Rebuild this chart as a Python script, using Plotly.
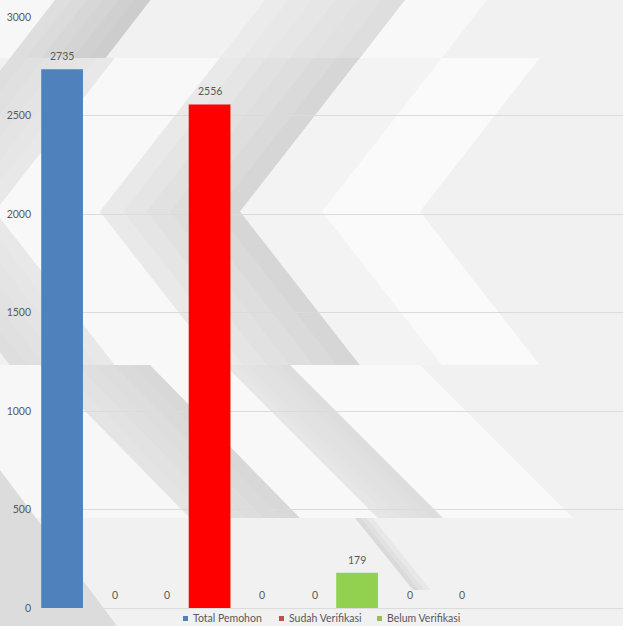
import plotly.graph_objects as go

# ---- data -------------------------------------------------------------
categories = ["Total Pemohon", "Sudah Verifikasi", "Belum Verifikasi"]
series_names = ["Total Pemohon", "Sudah Verifikasi", "Belum Verifikasi"]
series_values = [
    [2735, 2556, 179],
    [0, 0, 0],
    [0, 0, 0],
]
point_colors = ["#4f81bd", "#ff0000", "#92d050"]   # per-point colours of the first series
series_colors = ["#4f81bd", "#c0504d", "#9bbb59"]  # series colours (legend keys)
y_ticks = [0, 500, 1000, 1500, 2000, 2500, 3000]

# ---- geometry ---------------------------------------------------------
FIG_W, FIG_H = 623, 626
M_L, M_R, M_T, M_B = 41, 0, 17, 18
PLOT_W = FIG_W - M_L - M_R
PLOT_H = FIG_H - M_T - M_B
BAR_W = 0.283      # bar width in category units
STEP = 0.357       # distance between series slots inside a category
FONT = "Lato, 'Open Sans', sans-serif"
TXT = "#595959"


def px(xp):
    return (xp - M_L) / PLOT_W


def py(yp):
    return (FIG_H - M_B - yp) / PLOT_H


def poly(points, color):
    d = "M " + " L ".join(f"{px(a):.4f},{py(b):.4f}" for a, b in points) + " Z"
    return dict(type="path", xref="paper", yref="paper", path=d,
                fillcolor=color, line=dict(width=0), layer="below")


def blend(c1, c2, t):
    a = [int(c1[i:i + 2], 16) for i in (1, 3, 5)]
    b = [int(c2[i:i + 2], 16) for i in (1, 3, 5)]
    return "#" + "".join(f"{round(u + (v - u) * t):02x}" for u, v in zip(a, b))


def frac(s, steps):
    return s / (steps - 1) if steps > 1 else 0.0


# ---- decorative chevron background -----------------------------------
shapes = []
VY, Y0, Y1 = 211.5, 58, 365
DX = 0.78 * (VY - Y0)


def chevron(xo, xi, color):
    return poly([(xo, VY), (xo + DX, Y0), (xi + DX, Y0), (xi, VY),
                 (xi + DX, Y1), (xo + DX, Y1)], color)


def shaded_chevron(xo, xi, c_out, c_in, steps=6):
    w = (xi - xo) / steps
    for s in range(steps):
        shapes.append(chevron(xo + s * w, xo + (s + 1) * w + 0.6,
                              blend(c_out, c_in, frac(s, steps))))


def shaded_band(top, bottom, c_left, c_right, steps=6):
    """Parallelogram band split into strips running from left to right shade."""
    (ya, xa0, xa1), (yb, xb0, xb1) = top, bottom
    for s in range(steps):
        t0, t1 = s / steps, (s + 1) / steps
        pts = [(xa0 + (xa1 - xa0) * t0, ya), (xa0 + (xa1 - xa0) * t1 + 0.6, ya),
               (xb0 + (xb1 - xb0) * t1 + 0.6, yb), (xb0 + (xb1 - xb0) * t0, yb)]
        shapes.append(poly(pts, blend(c_left, c_right, frac(s, steps))))


# middle strip
shaded_chevron(-110, -5, "#dedede", "#e8e8e8")
shapes.append(chevron(-5, 100, "#f8f8f8"))
shaded_chevron(100, 240, "#e9e9e9", "#d6d6d6")
shapes.append(chevron(240, 322, "#f3f3f3"))
shapes.append(chevron(322, 420, "#fafafa"))

# upper strip: rising bands
shapes.append(poly([(-5, 58), (10, 58), (55, 0), (-5, 0)], "#f7f7f7"))
shaded_band((58, 10, 105), (0, 55, 150), "#dedede", "#cdcdcd")
shaded_band((58, 220, 360), (0, 265, 405), "#ebebeb", "#dedede")
shapes.append(poly([(360, 58), (442, 58), (487, 0), (405, 0)], "#f8f8f8"))

# lower strip: falling bands
shapes.append(poly([(-5, 365), (40, 365), (190, 518), (-5, 518)], "#f7f7f7"))
shaded_band((365, 40, 150), (518, 190, 300), "#e4e4e4", "#d8d8d8")
shapes.append(poly([(150, 365), (225, 365), (378, 518), (300, 518)], "#f8f8f8"))
shaded_band((365, 225, 290), (518, 378, 443), "#e6e6e6", "#dddddd")
shapes.append(poly([(290, 365), (420, 365), (573, 518), (443, 518)], "#f9f9f9"))
shapes.append(poly([(-5, 470), (0, 470), (120, 630), (-5, 630)], "#dcdcdc"))
shaded_band((518, 355, 372), (590, 413, 430), "#dadada", "#e8e8e8", steps=3)

# ---- bars -------------------------------------------------------------
x_pos = list(range(len(categories)))
fig = go.Figure()
annotations = []
for j, (name, vals) in enumerate(zip(series_names, series_values)):
    slot = (j - 1) * STEP
    fig.add_trace(go.Bar(
        x=x_pos, y=vals, name=name,
        width=BAR_W, offset=slot - BAR_W / 2,
        marker=dict(color=point_colors if j == 0 else series_colors[j],
                    line=dict(width=0)),
        opacity=1, showlegend=False, hoverinfo="x+y+name",
    ))
    for i, v in zip(x_pos, vals):
        annotations.append(dict(
            x=i + slot, y=v, xref="x", yref="y", text=str(v),
            showarrow=False, yanchor="bottom", yshift=5,
            font=dict(family=FONT, size=10.5, color=TXT)))

# ---- legend (keys + text under the axis) -------------------------------
key_x = [183, 279, 377]
for name, color, kx in zip(series_names, series_colors, key_x):
    shapes.append(dict(type="rect", xref="paper", yref="paper",
                       x0=px(kx), x1=px(kx + 5), y0=py(621), y1=py(616),
                       fillcolor=color, line=dict(width=0), layer="above"))
    annotations.append(dict(
        x=px(kx + 8), y=py(617.5), xref="paper", yref="paper", text=name,
        showarrow=False, xanchor="left", yanchor="middle",
        font=dict(family=FONT, size=10.5, color=TXT)))

fig.update_layout(
    width=FIG_W, height=FIG_H, autosize=False,
    margin=dict(l=M_L, r=M_R, t=M_T, b=M_B),
    paper_bgcolor="#f1f1f1", plot_bgcolor="rgba(0,0,0,0)",
    barmode="overlay", showlegend=False,
    shapes=shapes, annotations=annotations,
    font=dict(family=FONT, color=TXT),
    xaxis=dict(range=[-0.5, -0.5 + PLOT_W / 147.5], showticklabels=False,
               showgrid=False, zeroline=False, showline=False, fixedrange=True),
    yaxis=dict(range=[0, 3000], tickvals=y_ticks, showgrid=True,
               gridcolor="#dbdbdb", gridwidth=1, zeroline=True,
               zerolinecolor="#dbdbdb", zerolinewidth=1, showline=False,
               ticks="", ticklabelstandoff=9,
               tickfont=dict(family=FONT, size=10.5, color=TXT)),
)

fig.write_html("out.html")
